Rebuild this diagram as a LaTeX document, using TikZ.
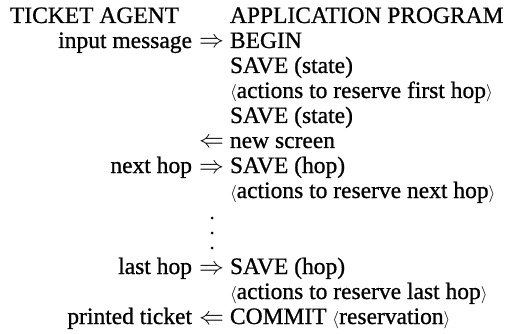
\documentclass[tikz,border=0pt]{standalone}
\usepackage{fontspec}
\setmainfont{Liberation Serif}[FakeBold=0.8]
\newcommand\myopen{{\fontsize{19}{20}\selectfont$\langle$}}
\newcommand\myclose{{\fontsize{19}{20}\selectfont$\rangle$}}
\begin{document}
\begin{tikzpicture}[x=1pt,y=-1pt,
  every node/.style={inner sep=0pt,outer sep=0pt,text height=16pt,text depth=5pt,font=\fontsize{23.5}{26}\selectfont},
  lab/.style={anchor=base east},
  prog/.style={anchor=base west},
  arr/.style={anchor=base},
  dot/.style={fill=black}]
\useasboundingbox (0,0) rectangle (514,334);
% header
\node[anchor=base west] (ta) at (10,23) {TICKET AGENT};
\node[prog] (ap) at (230,23) {APPLICATION PROGRAM};
% rows
\node[lab]  (l1) at (192,48) {input message};
\node[arr]  (a1) at (211.5,48) {$\Rightarrow$};
\node[prog] (p1) at (230,48) {BEGIN};
\node[prog] (p2) at (230,73) {SAVE (state)};
\node[prog] (p3) at (230,98) {\myopen actions to reserve first hop\myclose};
\node[prog] (p4) at (230,123) {SAVE (state)};
\node[arr]  (a5) at (211.5,148) {$\Leftarrow$};
\node[prog] (p5) at (230,148) {new screen};
\node[lab]  (l6) at (192,173) {next hop};
\node[arr]  (a6) at (211.5,173) {$\Rightarrow$};
\node[prog] (p6) at (230,173) {SAVE (hop)};
\node[prog] (p7) at (230,198) {\myopen actions to reserve next hop\myclose};
% dots
\fill[dot] (212,218) circle (1.5);
\fill[dot] (212,233) circle (1.5);
\fill[dot] (212,248) circle (1.5);
\node[lab]  (l8) at (192,274) {last hop};
\node[arr]  (a8) at (211.5,274) {$\Rightarrow$};
\node[prog] (p8) at (230,274) {SAVE (hop)};
\node[prog] (p9) at (230,299) {\myopen actions to reserve last hop\myclose};
\node[lab]  (l10) at (192,324) {printed ticket};
\node[arr]  (a10) at (211.5,324) {$\Leftarrow$};
\node[prog] (p10) at (230,324) {COMMIT \myopen reservation\myclose};
\end{tikzpicture}
\end{document}
